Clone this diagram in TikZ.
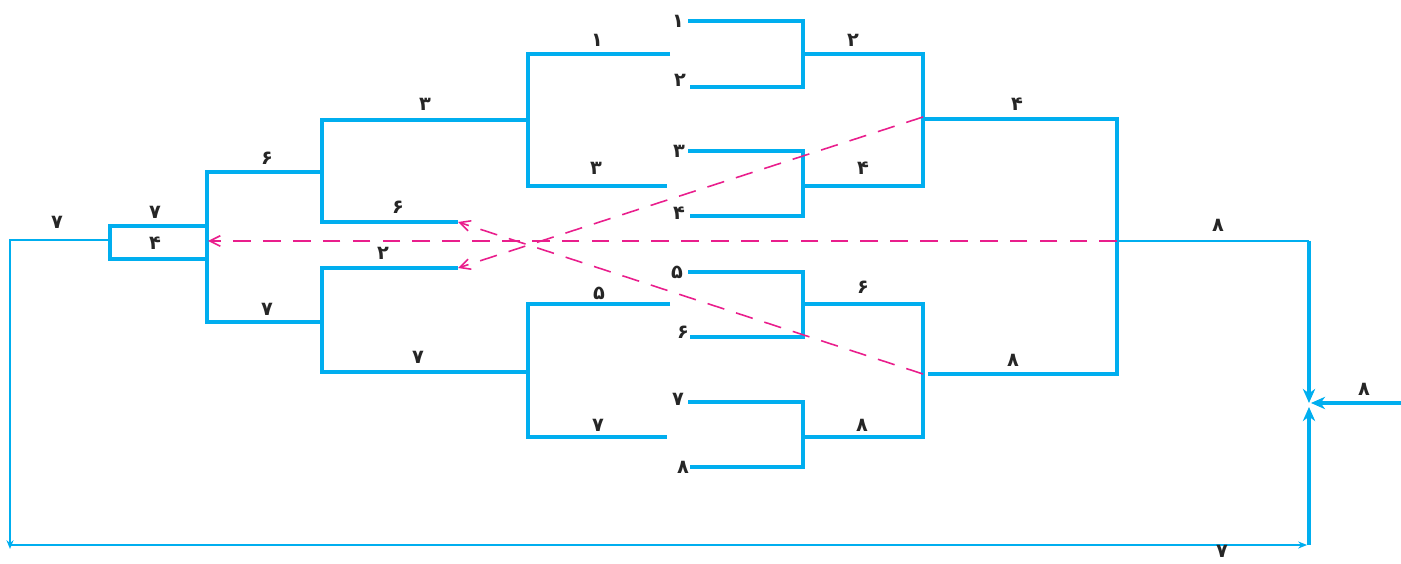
\documentclass[tikz,border=0pt]{standalone}
\usepackage{fontspec}
\newfontfamily\fanum[Script=Arabic]{DejaVu Sans}
\usetikzlibrary{arrows.meta}
\definecolor{brk}{RGB}{0,174,239}
\definecolor{pnk}{RGB}{233,30,140}
\tikzset{
  bk/.style={draw=brk, line width=2pt},
  thinbk/.style={draw=brk, line width=0.9pt},
  dsh/.style={draw=pnk, line width=0.9pt, dash pattern=on 10pt off 7pt,
    -{Straight Barb[length=6pt,width=6pt]}},
  tip/.style={-{Stealth[length=8pt,width=7pt,inset=2.5pt]}},
  num/.style={font=\fanum\bfseries\fontsize{11}{11}\selectfont, text=black!85, inner sep=0pt},
}
\begin{document}
\begin{tikzpicture}[x=0.02cm,y=-0.02cm]
    \useasboundingbox (0,0) rectangle (1401,564);
    % first round
    \draw[bk] (688,21) -- (803,21) -- (803,87) -- (690,87);
    \draw[bk] (688,151) -- (803,151) -- (803,216) -- (690,216);
    \draw[bk] (688,272) -- (803,272) -- (803,337) -- (690,337);
    \draw[bk] (688,402) -- (803,402) -- (803,467) -- (690,467);
    \draw[bk] (803,54) -- (923,54) -- (923,186) -- (803,186);
    \draw[bk] (803,304) -- (923,304) -- (923,437) -- (803,437);
    \draw[bk] (923,119) -- (1117,119) -- (1117,374) -- (928,374);
    % left side
    \draw[bk] (670,54) -- (528,54) -- (528,186) -- (667,186);
    \draw[bk] (670,304) -- (528,304) -- (528,437) -- (667,437);
    \draw[bk] (528,120) -- (322,120) -- (322,222) -- (458,222);
    \draw[bk] (528,372) -- (322,372) -- (322,268) -- (458,268);
    \draw[bk] (322,172) -- (207,172) -- (207,322) -- (322,322);
    \draw[bk] (205,226) -- (110,226) -- (110,259) -- (205,259);
    % loop round the bottom
    \coordinate (bl) at (10,545);
    \coordinate (br) at (1309,545);
    \coordinate (in) at (1401,403);
    \draw[thinbk, -{Stealth[length=5pt,width=4pt]}] (110,240) -- (10,240) -- (10,549);
    \draw[thinbk, -{Stealth[length=5pt,width=4pt]}] (bl) -- (1307,545);
    \draw[thinbk] (1117,241) -- (1309,241);
    \draw[bk, tip] (1309,241) -- (1309,403);
    \draw[bk, tip] (br) -- (1309,407);
    \draw[bk, tip] (in) -- (1311,403);
    % dashed moves
    \draw[dsh] (1117,241) -- (208,241);
    \draw[dsh] (923,117) -- (458,268);
    \draw[dsh] (923,374) -- (458,222);
    % labels
    \node[num] (a1) at (678,21) {۱};
    \node[num] (a2) at (680,80) {۲};
    \node[num] (a3) at (679,151) {۳};
    \node[num] (a4) at (679,213) {۴};
    \node[num] (a5) at (677,272) {۵};
    \node[num] (a6) at (683,332) {۶};
    \node[num] (a7) at (678,399) {۷};
    \node[num] (a8) at (683,467) {۸};
    \node[num] (b2) at (853,40) {۲};
    \node[num] (b4) at (863,168) {۴};
    \node[num] (b6) at (863,287) {۶};
    \node[num] (b8) at (862,425) {۸};
    \node[num] (c4) at (1017,104) {۴};
    \node[num] (c8) at (1013,360) {۸};
    \node[num] (d1) at (597,40) {۱};
    \node[num] (d3) at (596,168) {۳};
    \node[num] (d5) at (599,293) {۵};
    \node[num] (d7) at (598,425) {۷};
    \node[num] (e3) at (425,104) {۳};
    \node[num] (e6) at (398,207) {۶};
    \node[num] (e2) at (383,253) {۲};
    \node[num] (e7) at (418,357) {۷};
    \node[num] (f6) at (267,158) {۶};
    \node[num] (f7) at (267,309) {۷};
    \node[num] (g7) at (155,212) {۷};
    \node[num] (g4) at (155,243) {۴};
    \node[num] (h7) at (57,222) {۷};
    \node[num] (k8) at (1218,225) {۸};
    \node[num] (m8) at (1364,389) {۸};
    \node[num] (n7) at (1222,551) {۷};
\end{tikzpicture}
\end{document}
